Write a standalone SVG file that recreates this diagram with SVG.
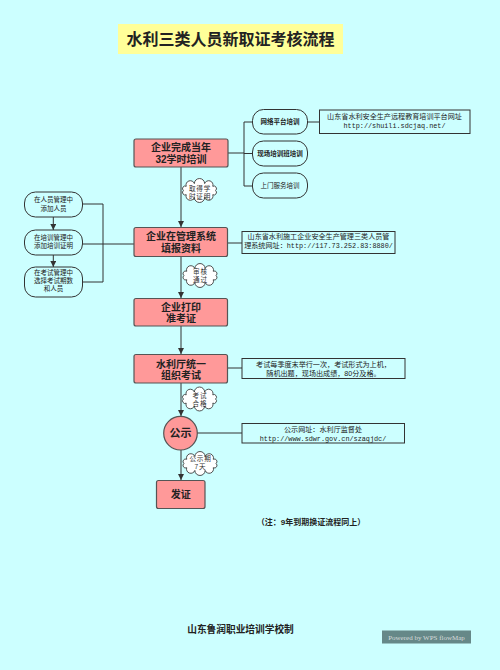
<svg xmlns="http://www.w3.org/2000/svg" width="500" height="670" viewBox="0 0 500 670">
<defs>
<style>
.cjk{font-family:"Liberation Sans","Noto Sans CJK SC",sans-serif;fill:#222}
.node{fill:#ff9999;stroke:#555;stroke-width:1.2}
.rbox{fill:#ccffff;stroke:#333;stroke-width:1}
.ibox{fill:#ccffff;stroke:#333;stroke-width:1}
.cl{fill:#fff;stroke:#333;stroke-width:0.8}
.main{font-size:10px;font-weight:bold;text-anchor:middle}
.sm{font-size:6.5px;text-anchor:middle}
.info{font-size:7.1px;text-anchor:middle}
.mono{font-family:"Liberation Mono",monospace;font-size:6.8px}
.ct{font-size:6.6px;text-anchor:middle;fill:#333;letter-spacing:0.8px}
.conn line,.conn polyline{stroke:#333;stroke-width:1;fill:none}
</style>
<marker id="arr" viewBox="0 0 10 10" refX="10" refY="5" markerWidth="6" markerHeight="6" markerUnits="userSpaceOnUse" orient="auto">
<path d="M0,0 L10,5 L0,10 z" fill="#333"/>
</marker>
<path id="cloud" d="M15,0 A2.4,2.4 0 0 1 12.4,4 A3.9,3.9 0 0 1 4.8,6.6 A4.8,4.8 0 0 1 -4.8,6.6 A3.9,3.9 0 0 1 -12.4,4 A2.4,2.4 0 0 1 -15,0 A2.4,2.4 0 0 1 -12.4,-4 A3.9,3.9 0 0 1 -4.8,-6.6 A4.8,4.8 0 0 1 4.8,-6.6 A3.9,3.9 0 0 1 12.4,-4 A2.4,2.4 0 0 1 15,0 Z"/>
</defs>
<rect width="500" height="670" fill="#ccffff"/>

<g id="title">
<rect x="118" y="24" width="225" height="30" fill="#ffff99"/>
<text class="cjk" x="230.5" y="45" font-size="16px" font-weight="bold" text-anchor="middle">水利三类人员新取证考核流程</text>
</g>

<g class="conn" id="connectors">
<line x1="181" y1="166" x2="181" y2="227" marker-end="url(#arr)"/>
<line x1="181" y1="257" x2="181" y2="298" marker-end="url(#arr)"/>
<line x1="181" y1="326" x2="181" y2="354" marker-end="url(#arr)"/>
<line x1="181" y1="383" x2="181" y2="416" marker-end="url(#arr)"/>
<line x1="181" y1="450" x2="181" y2="480" marker-end="url(#arr)"/>
<line x1="228" y1="153" x2="244" y2="153"/>
<line x1="244" y1="122" x2="244" y2="186"/>
<line x1="244" y1="122" x2="252" y2="122"/>
<line x1="244" y1="153.5" x2="252" y2="153.5"/>
<line x1="244" y1="186" x2="252" y2="186"/>
<line x1="307" y1="122" x2="319" y2="122"/>
<line x1="227" y1="243" x2="242" y2="243"/>
<line x1="227" y1="368" x2="242" y2="368"/>
<line x1="197" y1="433" x2="242" y2="433"/>
<line x1="134" y1="244" x2="82" y2="244"/>
<polyline points="82,204 103,204 103,282 82,282"/>
<line x1="53.3" y1="217" x2="53.3" y2="230" marker-end="url(#arr)"/>
<line x1="53.3" y1="255" x2="53.3" y2="267" marker-end="url(#arr)"/>
</g>

<g id="n1">
<rect class="node" x="134" y="139" width="94" height="28" rx="2"/>
<text class="cjk main" x="181" y="150.5">企业完成当年</text>
<text class="cjk main" x="181" y="163">32学时培训</text>
</g>
<g id="t1">
<rect class="rbox" x="252.5" y="109.5" width="55" height="24.5" rx="11"/>
<text class="cjk sm" x="280" y="124.3" font-weight="bold">网络平台培训</text>
</g>
<g id="t2">
<rect class="rbox" x="252.5" y="141" width="55" height="25" rx="11"/>
<text class="cjk sm" x="280" y="156" font-weight="bold">现场培训班培训</text>
</g>
<g id="t3">
<rect class="rbox" x="252.5" y="173" width="55" height="25" rx="11"/>
<text class="cjk sm" x="280" y="188.3">上门服务培训</text>
</g>
<g id="i1">
<rect class="ibox" x="319.5" y="110" width="150.5" height="23.5"/>
<text class="cjk info" x="394.5" y="118.7">山东省水利安全生产远程教育培训平台网址</text>
<text class="mono" x="394.5" y="127.5" text-anchor="middle" fill="#222">http://shuili.sdcjaq.net/</text>
</g>
<g id="c1">
<use href="#cloud" class="cl" transform="translate(199.5,190.5) scale(1.07,1.05)"/>
<text class="cjk ct" x="200" y="190.8">取得学</text>
<text class="cjk ct" x="200" y="198.6">时证明</text>
</g>

<g id="la">
<rect class="rbox" x="24.5" y="192" width="58" height="25" rx="11"/>
<text class="cjk sm" x="53.5" y="201.8">在人员管理中</text>
<text class="cjk sm" x="53.5" y="210.8">添加人员</text>
</g>
<g id="lb">
<rect class="rbox" x="24.5" y="230" width="58" height="25" rx="11"/>
<text class="cjk sm" x="53.5" y="239.8">在培训管理中</text>
<text class="cjk sm" x="53.5" y="248.2">添加培训证明</text>
</g>
<g id="lc">
<rect class="rbox" x="24.5" y="267" width="58" height="30" rx="11"/>
<text class="cjk sm" x="53.5" y="275.3">在考试管理中</text>
<text class="cjk sm" x="53.5" y="283.3">选择考试期数</text>
<text class="cjk sm" x="53.5" y="291.3">和人员</text>
</g>

<g id="n2">
<rect class="node" x="134" y="227.5" width="93.5" height="29" rx="2"/>
<text class="cjk main" x="181" y="239.8">企业在管理系统</text>
<text class="cjk main" x="181" y="252.2">填报资料</text>
</g>
<g id="i2">
<rect class="ibox" x="242" y="231.5" width="153" height="22"/>
<text class="cjk info" x="318.5" y="239">山东省水利施工企业安全生产管理三类人员管</text>
<text class="cjk info" x="318.5" y="247.5">理系统网址：<tspan class="mono">http://117.73.252.83:8880/</tspan></text>
</g>
<g id="c2">
<use href="#cloud" class="cl" transform="translate(200,275.5) scale(1.07,1.05)"/>
<text class="cjk ct" x="200.5" y="273.7">审核</text>
<text class="cjk ct" x="200.5" y="282.3">通过</text>
</g>

<g id="n3">
<rect class="node" x="134" y="298.5" width="93.5" height="27.5" rx="2"/>
<text class="cjk main" x="181" y="310.5">企业打印</text>
<text class="cjk main" x="181" y="322.2">准考证</text>
</g>

<g id="n4">
<rect class="node" x="134" y="354.5" width="93.5" height="28.5" rx="2"/>
<text class="cjk main" x="181" y="367.7">水利厅统一</text>
<text class="cjk main" x="181" y="378.9">组织考试</text>
</g>
<g id="i3">
<rect class="ibox" x="242" y="358.5" width="163" height="20"/>
<text class="cjk info" x="323.5" y="367">考试每季度末举行一次，考试形式为上机，</text>
<text class="cjk info" x="323.5" y="376">随机出题，现场出成绩，80分及格。</text>
</g>
<g id="c3">
<use href="#cloud" class="cl" transform="translate(199.5,399) scale(1.07,1.05)"/>
<text class="cjk ct" x="200" y="397.6">考试</text>
<text class="cjk ct" x="200" y="405.8">合格</text>
</g>

<g id="n5">
<circle class="node" cx="180.5" cy="433.2" r="16.8"/>
<text class="cjk" x="180.5" y="437.2" font-size="11px" font-weight="bold" text-anchor="middle">公示</text>
</g>
<g id="i4">
<rect class="ibox" x="242" y="423.5" width="162.5" height="19.5"/>
<text class="cjk info" x="323" y="432">公示网址：水利厅监督处</text>
<text class="mono" x="323" y="441" text-anchor="middle" fill="#222">http://www.sdwr.gov.cn/szaqjdc/</text>
</g>
<g id="c4">
<use href="#cloud" class="cl" transform="translate(200,463.5) scale(1.07,1.05)"/>
<text class="cjk ct" x="200.5" y="461">公示期</text>
<text class="cjk ct" x="200.5" y="469.2">7天</text>
</g>

<g id="n6">
<rect class="node" x="156.5" y="480.5" width="48.5" height="28" rx="2"/>
<text class="cjk main" x="180.8" y="498">发证</text>
</g>

<text class="cjk" x="311" y="524.5" font-size="8px" font-weight="bold" text-anchor="middle">（注：9年到期换证流程同上）</text>
<text class="cjk" x="240.5" y="632.5" font-size="9.7px" font-weight="bold" text-anchor="middle">山东鲁润职业培训学校制</text>
<g id="powered">
<rect x="382" y="630.5" width="89" height="13" fill="#668888"/>
<text x="426.5" y="639.5" font-family="Liberation Serif,serif" font-size="7px" fill="#d8dcdc" text-anchor="middle">Powered by WPS flowMap</text>
</g>
</svg>
